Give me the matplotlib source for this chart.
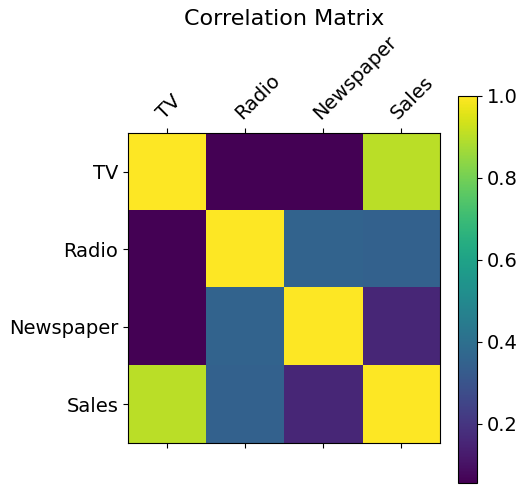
import matplotlib
matplotlib.use('Agg')
import matplotlib.pyplot as plt
import numpy as np

labels = ['TV', 'Radio', 'Newspaper', 'Sales']
corr = np.array([
    [1.000, 0.0548, 0.0566, 0.9012],
    [0.0548, 1.000, 0.3541, 0.3496],
    [0.0566, 0.3541, 1.000, 0.1580],
    [0.9012, 0.3496, 0.1580, 1.000],
])

fig = plt.figure(figsize=(5.28, 4.93), dpi=100)
ax = fig.add_axes([0.2424, 0.1014, 0.591, 0.629])
cax = fig.add_axes([0.8674, 0.0203, 0.036, 0.785])

im = ax.matshow(corr, cmap='viridis')
ax.set_xticks(range(len(labels)))
ax.set_xticklabels(labels, rotation=45, ha='left', rotation_mode='anchor', fontsize=14)
ax.set_yticks(range(len(labels)))
ax.set_yticklabels(labels, fontsize=14)
ax.set_aspect('auto')

cb = fig.colorbar(im, cax=cax)
cb.ax.tick_params(labelsize=14)

fig.text(0.538, 0.962, 'Correlation Matrix', ha='center', va='center', fontsize=16)
fig.savefig('out.png')
